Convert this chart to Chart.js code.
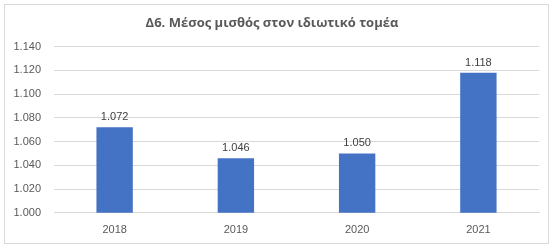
<!DOCTYPE html>
<html>
<head>
<meta charset="utf-8">
<script src="https://cdn.jsdelivr.net/npm/chart.js@4"></script>
<style>
  body { margin: 0; background: #fff; }
  .box { position: absolute; left: 4px; top: 4px; width: 543px; height: 238px; border: 1px solid #d9d9d9; }
</style>
</head>
<body>
<div class="box"><canvas id="chart" width="543" height="238"></canvas></div>
<script>
const years = ['2018', '2019', '2020', '2021'];
const salary = [1072, 1046, 1050, 1118];
const chartTitle = 'Δ6. Μέσος μισθός στον ιδιωτικό τομέα';

// 1072 -> "1.072"
const fmt = (v) => {
  const s = String(Math.round(v));
  return s.replace(/\B(?=(\d{3})+(?!\d))/g, '.');
};

const barLabels = {
  id: 'barLabels',
  afterDatasetsDraw(chart) {
    const ctx = chart.ctx;
    const meta = chart.getDatasetMeta(0);
    ctx.save();
    ctx.font = '11px "Liberation Sans", Arial, sans-serif';
    ctx.fillStyle = '#404040';
    ctx.textAlign = 'center';
    ctx.textBaseline = 'middle';
    meta.data.forEach((bar, i) => {
      ctx.fillText(fmt(salary[i]), bar.x, bar.y - 10);
    });
    ctx.restore();
  }
};

new Chart(document.getElementById('chart'), {
  type: 'bar',
  data: {
    labels: years,
    datasets: [{
      data: salary,
      backgroundColor: '#4472c4',
      barPercentage: 0.3,
      categoryPercentage: 1
    }]
  },
  options: {
    responsive: false,
    animation: false,
    layout: { padding: { left: 0, right: 9, top: 0, bottom: 3 } },
    plugins: {
      legend: { display: false },
      tooltip: { enabled: false },
      title: {
        display: true,
        text: chartTitle,
        color: '#595959',
        font: { family: '"Open Sans", sans-serif', size: 13, weight: 'bold' },
        padding: { top: 10, bottom: 16 }
      }
    },
    scales: {
      x: {
        grid: { display: false },
        border: { color: '#d9d9d9' },
        ticks: { color: '#595959', font: { family: '"Liberation Sans", Arial, sans-serif', size: 11 }, padding: 3 }
      },
      y: {
        min: 1000,
        max: 1140,
        afterFit: (scale) => { scale.width = 49; },
        grid: { color: '#d9d9d9', drawTicks: false },
        border: { display: false },
        ticks: {
          stepSize: 20,
          color: '#595959',
          padding: 13,
          font: { family: '"Liberation Sans", Arial, sans-serif', size: 11 },
          callback: (v) => fmt(v)
        }
      }
    }
  },
  plugins: [barLabels]
});
</script>
</body>
</html>
